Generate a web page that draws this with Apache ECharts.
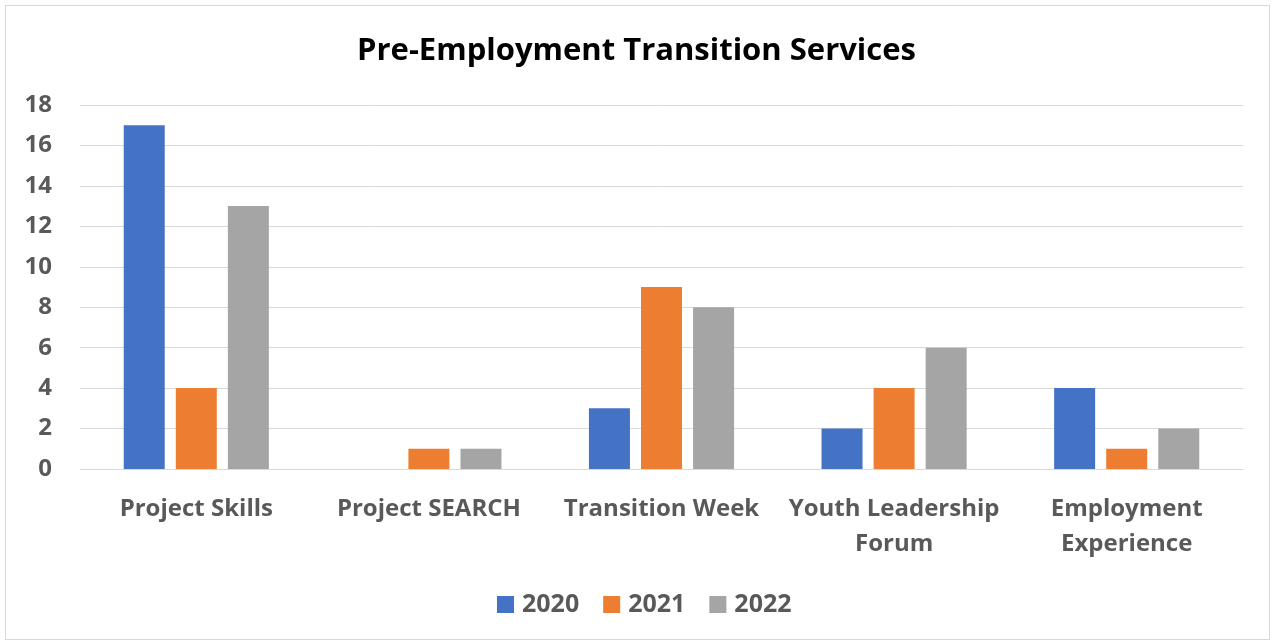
<!DOCTYPE html>
<html>
<head>
<meta charset="utf-8">
<script src="https://cdn.jsdelivr.net/npm/echarts@6/dist/echarts.min.js"></script>
<style>
  html, body { margin: 0; padding: 0; background: #fff; }
  #frame { position: absolute; left: 5px; top: 5px; width: 1265px; height: 635px; border: 1px solid #d9d9d9; box-sizing: border-box; }
  #chart { position: absolute; left: 0; top: 0; width: 1273px; height: 644px; }
</style>
</head>
<body>
<div id="frame"></div>
<div id="chart"></div>
<script>
const categories = ['Project Skills', 'Project SEARCH', 'Transition Week', 'Youth Leadership\nForum', 'Employment\nExperience'];
const years = ['2020', '2021', '2022'];
const values2020 = [17, 0, 3, 2, 4];
const values2021 = [4, 1, 9, 4, 1];
const values2022 = [13, 1, 8, 6, 2];
const yTicks = { min: 0, max: 18, interval: 2 };

const FONT = '"Open Sans"';
const palette = ['#4472C4', '#ED7D31', '#A5A5A5'];
const seriesValues = [values2020, values2021, values2022];

const chart = echarts.init(document.getElementById('chart'), null, { renderer: 'canvas' });
chart.setOption({
  animation: false,
  color: palette,
  title: {
    text: 'Pre-Employment Transition Services',
    left: 'center',
    top: 31,
    textStyle: { fontFamily: FONT, fontWeight: 'bold', fontSize: 31, color: '#000' }
  },
  legend: {
    bottom: 22,
    left: 492,
    itemWidth: 17,
    itemHeight: 17,
    itemGap: 24,
    icon: 'rect',
    textStyle: { fontFamily: FONT, fontWeight: 'bold', fontSize: 25, color: '#595959', padding: [0, 0, 0, 3] }
  },
  grid: { left: 80, right: 30, top: 105, bottom: 175, containLabel: false },
  xAxis: {
    type: 'category',
    data: categories,
    axisLine: { show: true, lineStyle: { color: '#d9d9d9', width: 1 } },
    axisTick: { show: false },
    axisLabel: {
      fontFamily: FONT, fontWeight: 'bold', fontSize: 24, color: '#595959',
      margin: 23, lineHeight: 35, interval: 0
    }
  },
  yAxis: {
    type: 'value',
    min: yTicks.min,
    max: yTicks.max,
    interval: yTicks.interval,
    axisLine: { show: false },
    axisTick: { show: false },
    splitLine: { lineStyle: { color: '#d9d9d9', width: 1 } },
    axisLabel: { fontFamily: FONT, fontWeight: 'bold', fontSize: 24, color: '#595959', margin: 28 }
  },
  series: years.map((y, i) => ({
    name: y,
    type: 'bar',
    data: seriesValues[i],
    barWidth: 41,
    barGap: '27%',
    itemStyle: { color: palette[i] }
  }))
});
</script>
</body>
</html>
